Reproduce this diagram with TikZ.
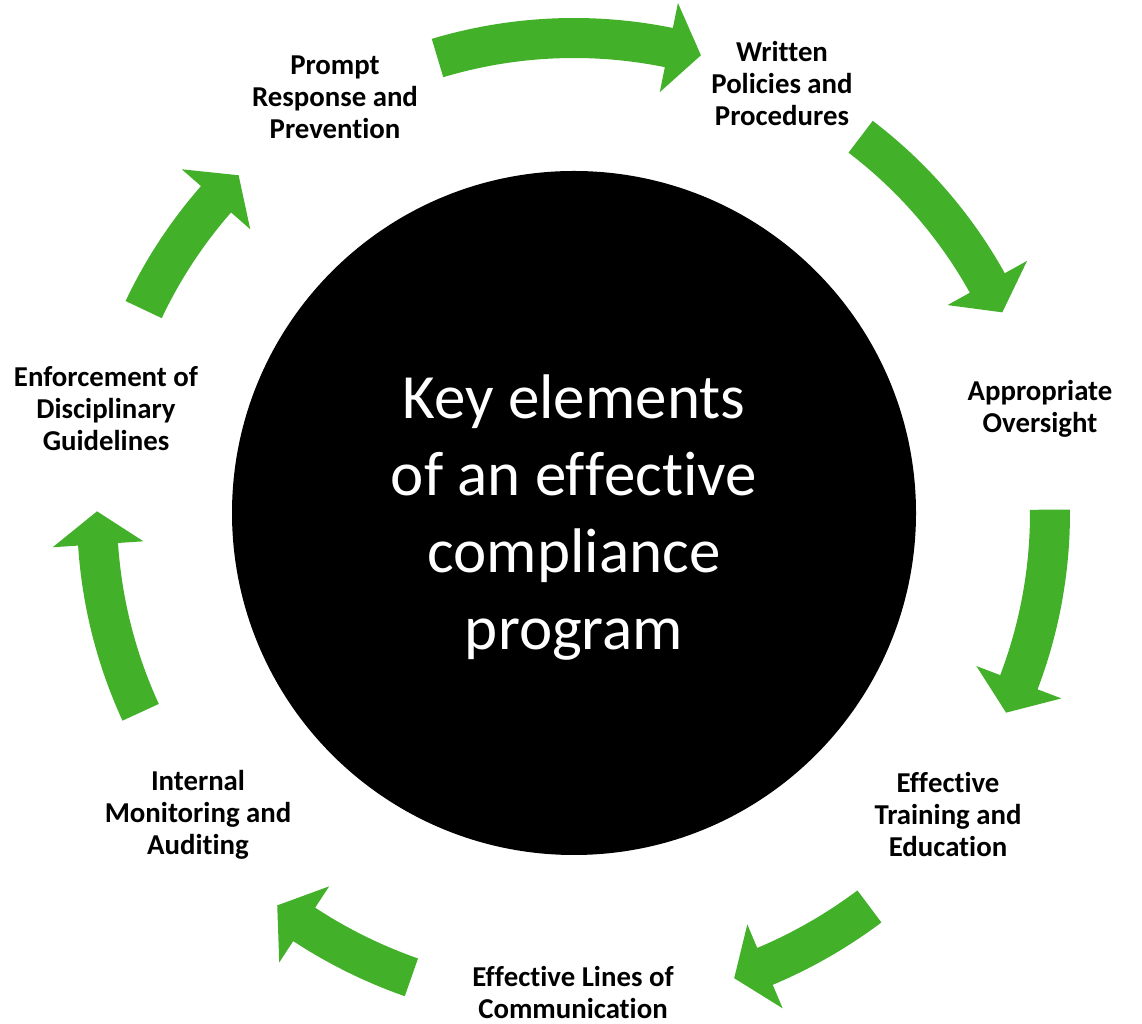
\documentclass[tikz,border=0pt]{standalone}
\usepackage{fontspec}
\setmainfont{Carlito}[Ligatures={NoCommon,NoRequired,NoContextual}]
\definecolor{cgreen}{RGB}{67,176,42}
\newcommand{\nl}{\kern0pt }
\tikzset{
  lbl/.style={font=\fontsize{28.8}{32}\selectfont\bfseries, align=center, text=black, inner sep=0pt},
  garrow/.style={fill=cgreen, draw=none},
  hubstyle/.style={circle, fill=black, draw=none, minimum size=684pt, inner sep=0pt},
  titlestyle/.style={font=\fontsize{63}{77}\selectfont, align=center, text=white, inner sep=0pt}
}
% #1 centre-line radius, #2 tail angle, #3 tip angle (clockwise arrow)
\newcommand{\cycarrow}[3]{%
  \pgfmathsetmacro{\cAb}{#3+33/#1*57.29578}%
  \pgfmathsetmacro{\cRo}{#1+20}%
  \pgfmathsetmacro{\cRi}{#1-20}%
  \pgfmathsetmacro{\cHo}{#1+45.5}%
  \pgfmathsetmacro{\cHi}{#1-45.5}%
  \fill[garrow] (#2:\cRo pt) arc[start angle=#2, end angle=\cAb, radius=\cRo pt]
    -- (\cAb:\cHo pt) -- (#3:#1 pt) -- (\cAb:\cHi pt) -- (\cAb:\cRi pt)
    arc[start angle=\cAb, end angle=#2, radius=\cRi pt] -- cycle;}
\begin{document}
\begin{tikzpicture}[x=1pt, y=1pt]
  \useasboundingbox (0,0) rectangle (1142,1024);
  \node[hubstyle] (hub) at (574,511) {};
  \node[titlestyle] (title) at (574,506) {Key elements\\of an ef\nl f\nl ect\nl ive\\compliance\\program};

  \node[lbl] (prompt) at (335,927) {Prompt\\Response and\\Prevent\nl ion};
  \node[lbl] (written) at (782,940) {Written\\Policies and\\Procedures};
  \node[lbl] (oversight) at (1040,615) {Appropriate\\Oversight};
  \node[lbl] (training) at (948,209) {Ef\nl f\nl ect\nl ive\\Training and\\Educat\nl ion};
  \node[lbl] (lines) at (573,31) {Ef\nl f\nl ect\nl ive Lines of\\Communicat\nl ion};
  \node[lbl] (monitor) at (198,209) {Internal\\Monitoring and\\Auditing};
  \node[lbl] (enforce) at (106,615) {Enforcement of\\Disciplinary\\Guidelines};

  \begin{scope}[shift={(hub.center)}]
    \cycarrow{475}{106.7}{74.5}
    \cycarrow{473}{52.7}{25.1}
    \cycarrow{476}{0.4}{-24.8}
    \cycarrow{492}{-53.1}{-71.0}
    \cycarrow{492}{-109.3}{-127.1}
    \cycarrow{477}{204.7}{179.8}
    \cycarrow{476}{154.7}{134.8}
  \end{scope}
\end{tikzpicture}
\end{document}
